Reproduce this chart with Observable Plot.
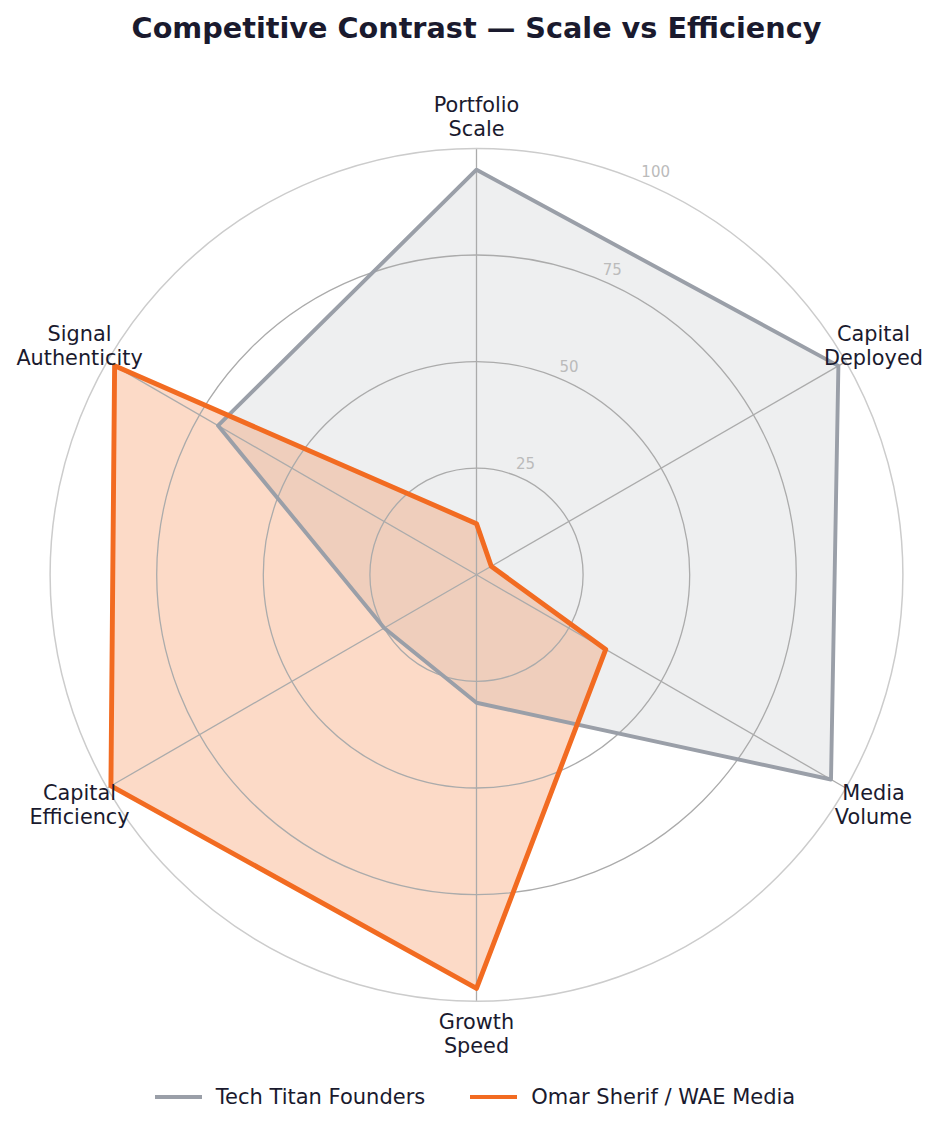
<!DOCTYPE html>
<html>
<head>
<meta charset="utf-8">
<script src="https://cdn.jsdelivr.net/npm/d3@7"></script>
<script src="https://cdn.jsdelivr.net/npm/@observablehq/plot@0.6"></script>
<style>
  html, body { margin: 0; padding: 0; background: #ffffff; }
  body { width: 938px; font-family: "DejaVu Sans", sans-serif; color: #1a1a2e; }
  #title { height: 56px; line-height: 56px; text-align: center; padding-left: 15px;
           font-size: 28.7px; font-weight: bold; color: #1a1a2e; white-space: nowrap; }
  #chart svg { display: block; }
  #legend { height: 54px; display: flex; align-items: center; justify-content: center;
            padding-left: 12px; font-size: 21px; color: #1a1a2e; white-space: nowrap; }
  .item { display: flex; align-items: center; }
  .swatch { width: 47px; margin-right: 14px; }
  .gap { width: 45px; }
</style>
</head>
<body>
<div id="title">Competitive Contrast — Scale vs Efficiency</div>
<div id="chart"></div>
<div id="legend"></div>
<script>
// ---- data ----
const categories = ["Portfolio\nScale", "Capital\nDeployed", "Media\nVolume", "Growth\nSpeed", "Capital\nEfficiency", "Signal\nAuthenticity"];
const seriesNames = ["Tech Titan Founders", "Omar Sherif / WAE Media"];
const techTitanValues = [95, 98, 96, 30, 25, 70];
const omarValues = [12, 4, 35, 97, 99, 98];
const radialTicks = [25, 50, 75, 100];

// ---- styles ----
const colors = ["#9A9FA8", "#F26B21"];
const fillOpacities = [0.17, 0.25];
const lineWidths = [3.9, 4.9];
const R = 426.4;            // pixel radius of the 100 circle
const labelRadius = 107.5;  // category label position, in value units
const tickAngleDeg = 24;    // angle of radial tick labels
const tickOffset = 3.3;

const n = categories.length;
const angle = (i) => (2 * Math.PI * i) / n;
const px = (v, i) => v * Math.sin(angle(i));
const py = (v, i) => v * Math.cos(angle(i));

const seriesValues = [techTitanValues, omarValues];
const rows = seriesValues.map((vals, s) =>
  vals.map((v, i) => ({ series: seriesNames[s], i, value: v, category: categories[i] }))
);

const catRows = categories.map((c, i) => ({ c, i }));
const ta = tickAngleDeg * Math.PI / 180;

const width = 938, height = 1014;
const cx = 476, cy = 574.3 - 56;

const chart = Plot.plot({
  width, height,
  marginLeft: cx - R,
  marginRight: width - (cx + R),
  marginTop: cy - R,
  marginBottom: height - (cy + R),
  x: { domain: [-100, 100], axis: null },
  y: { domain: [-100, 100], axis: null },
  r: { type: "linear", domain: [0, 100], range: [0, R] },
  style: { fontFamily: "DejaVu Sans, sans-serif", background: "#ffffff", overflow: "visible" },
  marks: [
    // fills
    ...rows.map((data, s) => Plot.line(data, {
      x: d => px(d.value, d.i), y: d => py(d.value, d.i),
      curve: "linear-closed", fill: colors[s], fillOpacity: fillOpacities[s], stroke: "none"
    })),
    // grid circles
    Plot.dot(radialTicks.filter(t => t < 100), {
      x: () => 0, y: () => 0, r: d => d, stroke: "#ababab", strokeWidth: 1.3, fill: "none"
    }),
    // spokes
    Plot.link(catRows, {
      x1: () => 0, y1: () => 0, x2: d => px(100, d.i), y2: d => py(100, d.i),
      stroke: "#ababab", strokeWidth: 1.3
    }),
    // outer circle
    Plot.dot(radialTicks.filter(t => t === 100), {
      x: () => 0, y: () => 0, r: d => d, stroke: "#cccccc", strokeWidth: 1.5, fill: "none"
    }),
    // series outlines
    ...rows.map((data, s) => Plot.line(data, {
      x: d => px(d.value, d.i), y: d => py(d.value, d.i),
      curve: "linear-closed", stroke: colors[s], strokeWidth: lineWidths[s],
      strokeLinejoin: "round", fill: "none"
    })),
    // radial tick labels
    Plot.text(radialTicks, {
      x: d => (d + tickOffset) * Math.sin(ta), y: d => (d + tickOffset) * Math.cos(ta),
      text: d => String(d), fill: "#bbbbbb", fontSize: 15,
      textAnchor: "middle", lineAnchor: "middle"
    }),
    // category labels
    Plot.text(catRows, {
      x: d => px(labelRadius, d.i), y: d => py(labelRadius, d.i),
      text: d => d.c, fill: "#1a1a2e", fontSize: 20.8, lineHeight: 1.15,
      textAnchor: "middle", lineAnchor: "middle"
    })
  ]
});
document.getElementById("chart").appendChild(chart);

// legend
const legend = document.getElementById("legend");
seriesNames.forEach((name, s) => {
  if (s > 0) { const g = document.createElement("div"); g.className = "gap"; legend.appendChild(g); }
  const item = document.createElement("div"); item.className = "item";
  const sw = document.createElement("div"); sw.className = "swatch";
  sw.style.height = lineWidths[s] + "px"; sw.style.background = colors[s];
  const t = document.createElement("span"); t.textContent = name;
  item.appendChild(sw); item.appendChild(t); legend.appendChild(item);
});
</script>
</body>
</html>
